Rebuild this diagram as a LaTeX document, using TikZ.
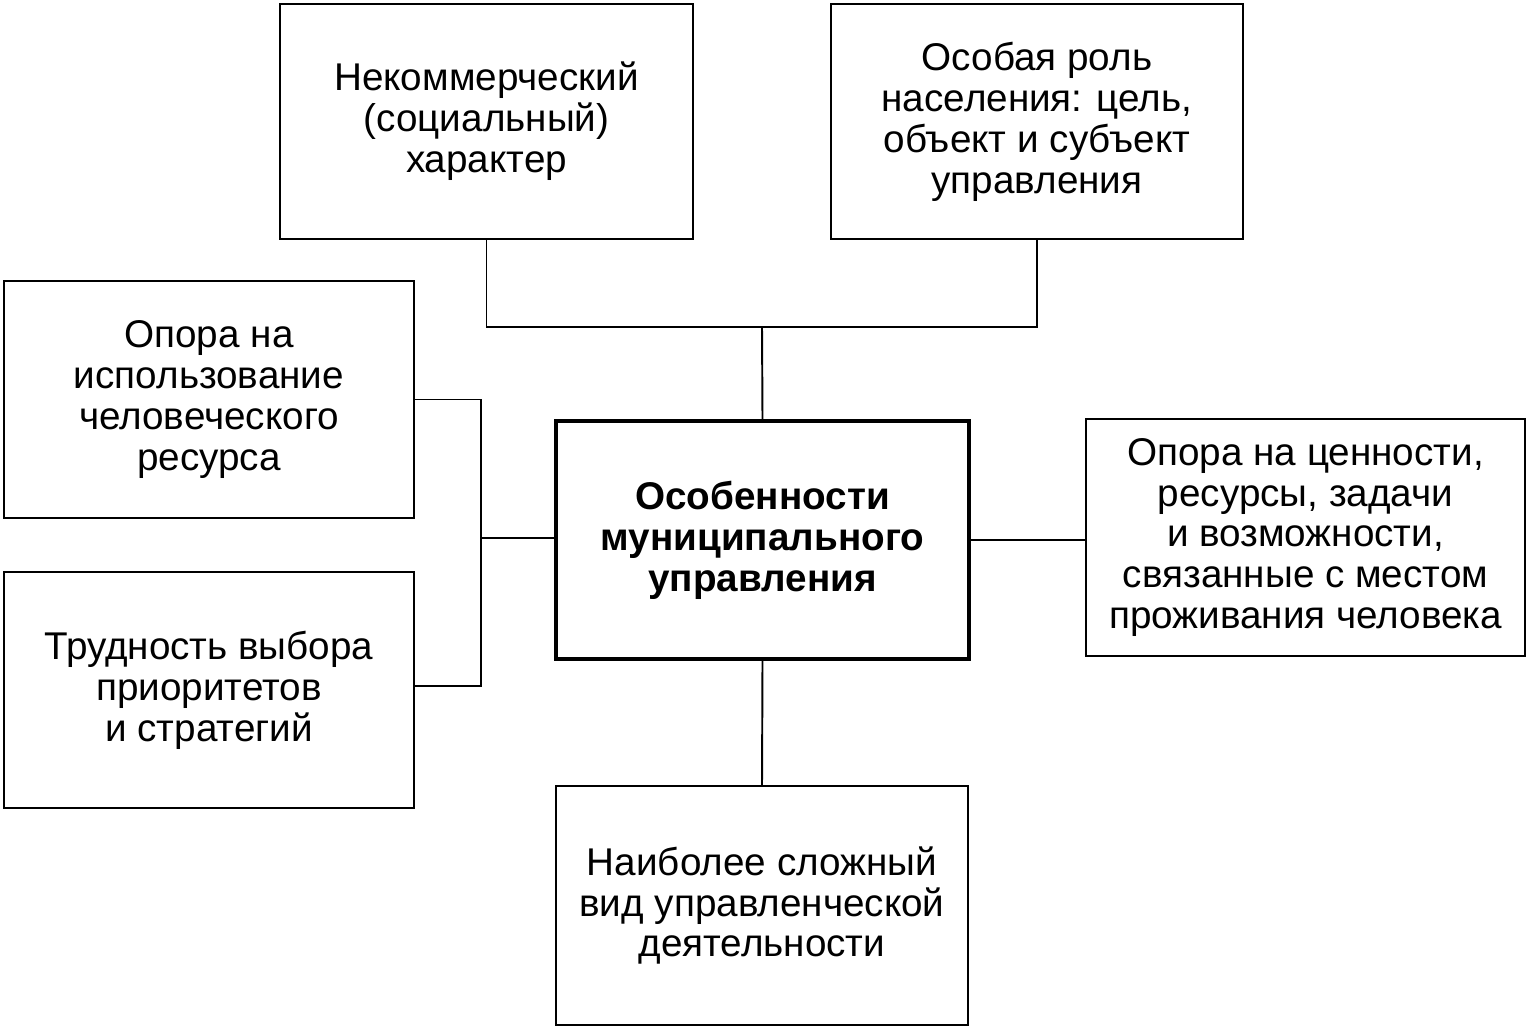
\documentclass[tikz,border=0pt]{standalone}
\usepackage{fontspec}
\setmainfont{Liberation Sans}
\begin{document}
\begin{tikzpicture}[x=0.02cm,y=-0.02cm,
  box/.style={draw,line width=1.2pt,align=center,inner sep=0pt,font=\fontsize{22}{23.3}\selectfont},
  mainbox/.style={box,line width=2.3pt,font=\fontsize{22}{23.3}\selectfont\bfseries},
  conn/.style={line width=1.1pt}]
\useasboundingbox (0,0) rectangle (1527,1028);
\node[box,minimum width=8.26cm,minimum height=4.7cm] (b1) at (486.5,121.5) {Некоммерческий\\(социальный)\\характер};
\node[box,minimum width=8.24cm,minimum height=4.7cm] (b2) at (1037,121.5) {Особая роль\\населения: цель,\\объект и субъект\\управления};
\node[box,minimum width=8.2cm,minimum height=4.74cm] (b3) at (209,399.5) {Опора на\\использование\\человеческого\\ресурса};
\node[box,minimum width=8.2cm,minimum height=4.72cm] (b4) at (209,690) {Трудность выбора\\приоритетов\\и стратегий};
\node[mainbox,minimum width=8.28cm,minimum height=4.76cm] (c) at (762.5,540) {Особенности\\муниципального\\управления};
\node[box,minimum width=8.78cm,minimum height=4.74cm] (r) at (1305.5,537.5) {Опора на ценности,\\ресурсы, задачи\\и возможности,\\связанные с местом\\проживания человека};
\node[box,minimum width=8.24cm,minimum height=4.78cm] (bt) at (762,905.5) {Наиболее сложный\\вид управленческой\\деятельности};
\coordinate (j1) at (762,327);
\coordinate (jl) at (481,538);
\draw[conn] (b1.south) |- (j1) -| (b2.south);
\draw[conn] (j1) -- (c.north);
\draw[conn] (b3.east) -| (jl) |- ([yshift=0.08cm]b4.east);
\draw[conn] (jl) -- (jl -| c.west);
\draw[conn] (c.east) -- (c.east -| r.west);
\draw[conn] (c.south) -- (bt.north);
\end{tikzpicture}
\end{document}
